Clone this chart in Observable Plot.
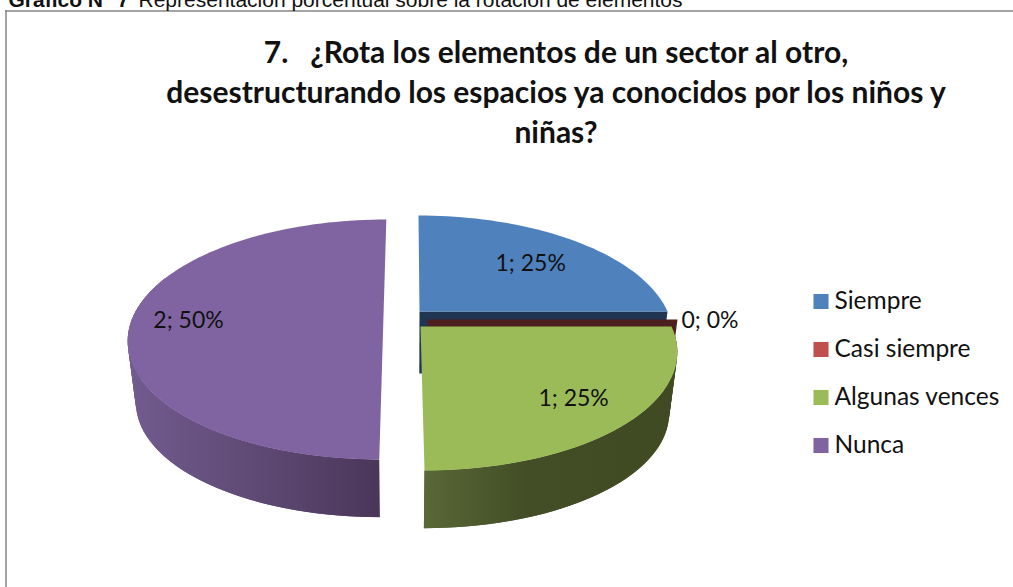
<!DOCTYPE html>
<html>
<head>
<meta charset="utf-8">
<script src="https://cdn.jsdelivr.net/npm/d3@7"></script>
<script src="https://cdn.jsdelivr.net/npm/@observablehq/plot@0.6"></script>
<style>html,body{margin:0;padding:0;background:#fff;overflow:hidden}</style>
</head>
<body>
<div id="chart"></div>
<script>
// ---- data ----
const categories = ["Siempre", "Casi siempre", "Algunas vences", "Nunca"];
const values = [1, 0, 1, 2];
const caption = "Representación porcentual sobre la rotación de elementos";
const captionLead = "Gráfico N° 7";
const titleText = "7.   ¿Rota los elementos de un sector al otro,\ndesestructurando los espacios ya conocidos por los niños y\nniñas?";

// ---- styling ----
const topColors = ["#4f81bd", "#c0504d", "#9bbb59", "#8064a2"];
const cutColors = ["#1f3552", "#4d1f1f", "#3f4a22", "#4a3659"];

// ---- 3-D pie layout (perspective projection of a tilted disc) ----
const W = 1013, H = 587;
const persp = 0.2, Ry = 115.2, depth = 62, depthScale = 0.97;
const slices = [
  {cx: 413, cy: 311, ex: 6, rx: 248, labelF: 0.70, labelDy: 4},
  {cx: 402, cy: 319, ex: 25, rx: 250, labelF: 1.13, labelDy: 1},
  {cx: 404, cy: 326, ex: 16, rx: 251, labelF: 0.76, labelDy: 3},
  {cx: 400, cy: 315, ex: -17, rx: 250, labelF: 0.78, labelDy: 5}
];
const total = d3.sum(values);
const cum = d3.cumsum(values);
const startDeg = i => (i === 0 ? 0 : cum[i - 1]) / total * 360;
const endDeg = i => cum[i] / total * 360;

function project(s, deg, f = 1) {
  const a = deg * Math.PI / 180, u = f * Math.sin(a), v = f * Math.cos(a), d = 1 + persp * v;
  return {x: s.cx + (s.rx * u + s.ex) / d, y: s.cy - Ry * v / d};
}
const lower = (s, p) => ({
  x: s.cx + depthScale * (p.x - s.cx),
  y: p.y + depth - (1 - depthScale) * (p.y - s.cy)
});
const arcPts = (s, a0, a1) => {
  const n = Math.max(1, Math.ceil(Math.abs(a1 - a0) / 2));
  return d3.range(n + 1).map(k => project(s, a0 + (a1 - a0) * k / n));
};
// top face of slice i
const topFace = i => {
  const s = slices[i];
  return [project(s, 0, 0), ...arcPts(s, startDeg(i), endDeg(i))];
};
// outer side wall: one overlapping quad per step, so the silhouette is swept out fully
const sideWall = (i, a0, a1) => {
  const s = slices[i], rim = arcPts(s, a0, a1), out = [];
  for (let k = 0; k < rim.length - 1; k++) {
    const e = Math.min(k + 2, rim.length - 1);
    [rim[k], rim[e], lower(s, rim[e]), lower(s, rim[k])].forEach(p => out.push({...p, k}));
  }
  return out;
};
// flat cut face at angle deg
const cutFace = (i, deg) => {
  const s = slices[i], c = project(s, 0, 0), r = project(s, deg);
  return [c, r, lower(s, r), lower(s, c)];
};
const poly = (pts, fill) => Plot.line(pts, {x: "x", y: "y", fill, stroke: "none"});
const wall = (pts, fill) => Plot.line(pts, {x: "x", y: "y", z: "k", fill, stroke: "none"});

const gradients = () => {
  const defs = d3.create("svg:defs");
  const add = (id, x1, x2, stops) => {
    const g = defs.append("linearGradient").attr("id", id)
      .attr("gradientUnits", "userSpaceOnUse")
      .attr("x1", x1).attr("x2", x2).attr("y1", 0).attr("y2", 0);
    stops.forEach(([o, c]) => g.append("stop").attr("offset", o).attr("stop-color", c));
  };
  add("sidePurple", 127, 380, [[0, "#725b8f"], [0.5, "#5f4a75"], [1, "#4a3659"]]);
  add("sideGreen", 424, 678, [[0, "#586836"], [0.4, "#434d26"], [1, "#3f4a22"]]);
  return defs.node();
};

const labels = categories.map((c, i) => {
  const s = slices[i];
  const p = project(s, (startDeg(i) + endDeg(i)) / 2, s.labelF);
  return {x: p.x, y: p.y + s.labelDy,
          text: `${values[i]}; ${Math.round(values[i] / total * 100)}%`};
});

const legendX = 820.5, legendTextX = 834, legendTop = 301, legendStep = 48;
const legend = categories.map((name, i) => ({name, color: topColors[i], y: legendTop + i * legendStep}));

const plot = Plot.plot({
  width: W, height: H,
  margin: 0,
  x: {domain: [0, W], range: [0, W], axis: null},
  y: {domain: [0, H], range: [0, H], axis: null},
  style: {fontFamily: "Lato, sans-serif", background: "#fff", color: "#111"},
  marks: [
    gradients,
    // chart frame
    Plot.ruleX([5.5], {y1: 10, y2: H, stroke: "#868686", strokeWidth: 1.5}),
    Plot.ruleY([10.5], {x1: 5, x2: W, stroke: "#868686", strokeWidth: 1.5}),
    // slices, back to front
    wall(sideWall(3, 180, 290), "url(#sidePurple)"),
    poly(topFace(3), topColors[3]),
    poly(cutFace(0, endDeg(0)), cutColors[0]),
    poly(cutFace(1, endDeg(1)), cutColors[1]),
    wall(sideWall(2, startDeg(2), endDeg(2)), "url(#sideGreen)"),
    poly(topFace(2), topColors[2]),
    poly(topFace(0), topColors[0]),
    // data labels
    Plot.text(labels, {x: "x", y: "y", text: "text", fontSize: 23, fill: "#111"}),
    // legend
    Plot.dot(legend, {x: () => legendX, y: "y", symbol: "square", r: 8.5, fill: "color"}),
    Plot.text(legend, {x: () => legendTextX, y: "y", text: "name", textAnchor: "start", fontSize: 24.5, fill: "#111"}),
    // title
    Plot.text([titleText], {x: () => 555.5, y: () => 90, text: d => d, fontSize: 30, fontWeight: 700, lineHeight: 1.33, fill: "#111"}),
    // caption
    Plot.text([captionLead], {x: () => 8, y: () => 0, text: d => d, textAnchor: "start", fontFamily: "Liberation Sans", fontSize: 21, fontWeight: 700, fill: "#111"}),
    Plot.text([caption], {x: () => 138, y: () => 0, text: d => d, textAnchor: "start", fontFamily: "Liberation Sans", fontSize: 21, fill: "#111"})
  ]
});
document.getElementById("chart").append(plot);
</script>
</body>
</html>
